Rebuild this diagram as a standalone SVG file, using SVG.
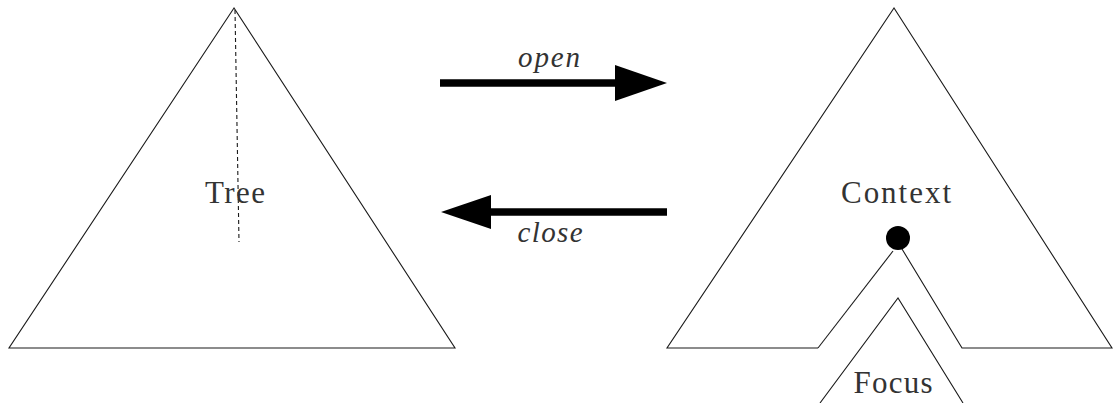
<svg xmlns="http://www.w3.org/2000/svg" width="1113" height="403" viewBox="0 0 1113 403">
  <style>
    .edge { fill: none; stroke: #1a1a1a; stroke-width: 1.1; stroke-linejoin: miter; }
    .dash { fill: none; stroke: #1a1a1a; stroke-width: 1.1; stroke-dasharray: 4 3; }
    .label { font-family: "Liberation Serif", "DejaVu Serif", serif; font-size: 31px; fill: #333; text-anchor: middle; }
    .op { font-family: "Liberation Serif", "DejaVu Serif", serif; font-size: 29px; font-style: italic; fill: #333; text-anchor: middle; }
    .shaft { stroke: #000; stroke-width: 7.5; fill: none; }
    .head { fill: #000; }
  </style>
  <rect width="1113" height="403" fill="#fff"/>

  <!-- whole tree -->
  <g id="tree">
    <polygon class="edge" points="234,8 9,348 455,348"/>
    <line class="dash" x1="235" y1="10" x2="239" y2="242"/>
    <text class="label" x="235" y="203" textLength="60" lengthAdjust="spacing">Tree</text>
  </g>

  <!-- zipper: context with hole, plus focus subtree -->
  <g id="context">
    <polyline class="edge" points="818,348 667,348 894,8 1112,348 962,348 902,249"/>
    <line class="edge" x1="818" y1="348" x2="893" y2="251"/>
    <circle cx="898" cy="238" r="12" fill="#000"/>
    <text class="label" x="896" y="203" textLength="110" lengthAdjust="spacing">Context</text>
  </g>

  <g id="focus">
    <polyline class="edge" points="820,403 898,298 963,403"/>
    <text class="label" x="893" y="393" textLength="79" lengthAdjust="spacing">Focus</text>
  </g>

  <!-- open / close transitions -->
  <g id="connectors">
    <g id="open">
      <line class="shaft" x1="440" y1="83" x2="618" y2="83"/>
      <polygon class="head" points="667,83 615,65 615,101"/>
      <text class="op" x="549" y="67" textLength="62" lengthAdjust="spacing">open</text>
    </g>
    <g id="close">
      <line class="shaft" x1="667" y1="212" x2="488" y2="212"/>
      <polygon class="head" points="441,212 491,195 491,229"/>
      <text class="op" x="550" y="242" textLength="65" lengthAdjust="spacing">close</text>
    </g>
  </g>
</svg>
